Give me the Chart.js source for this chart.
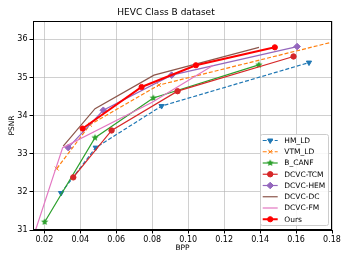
<!DOCTYPE html>
<html><head><meta charset="utf-8">
<script src="https://cdn.jsdelivr.net/npm/chart.js@4"></script>
<style>html,body{margin:0;padding:0;background:#fff;}</style>
</head><body>
<canvas id="c" width="349" height="262"></canvas>
<script>
// ---- data ----
const titleText = 'HEVC Class B dataset';
const xTickValues = [0.02, 0.04, 0.06, 0.08, 0.10, 0.12, 0.14, 0.16, 0.18];
const yTickValues = [31, 32, 33, 34, 35, 36];

const hmLdBpp   = [0.0293, 0.0486, 0.0852, 0.1672];
const hmLdPsnr  = [31.97, 33.16, 34.25, 35.39];
const vtmLdBpp  = [0.0269, 0.0454, 0.0837, 0.2000];
const vtmLdPsnr = [32.61, 33.76, 34.80, 36.16];
const canfBpp   = [0.0202, 0.0482, 0.0806, 0.1393];
const canfPsnr  = [31.21, 33.42, 34.46, 35.33];
const tcmBpp    = [0.0361, 0.0574, 0.0941, 0.1586];
const tcmPsnr   = [32.38, 33.61, 34.64, 35.55];
const hemBpp    = [0.0333, 0.0528, 0.0908, 0.1606];
const hemPsnr   = [33.16, 34.14, 35.06, 35.81];
const dcBpp     = [0.0305, 0.0482, 0.0810, 0.1394];
const dcPsnr    = [33.20, 34.18, 35.06, 35.79];
const fmBpp     = [0.0120, 0.0302, 0.0800, 0.1140];
const fmPsnr    = [30.55, 33.16, 34.35, 35.32];
const oursBpp   = [0.0413, 0.0741, 0.1043, 0.1482];
const oursPsnr  = [33.66, 34.75, 35.32, 35.79];

const FONT = "'DejaVu Sans', sans-serif";

function makeStar(color, r) {
  const c = document.createElement('canvas');
  const s = Math.ceil(r * 2 + 2);
  c.width = c.height = s;
  const g = c.getContext('2d');
  g.fillStyle = color;
  g.beginPath();
  for (let i = 0; i < 10; i++) {
    const a = -Math.PI / 2 + i * Math.PI / 5;
    const rr = i % 2 ? r * 0.45 : r;
    g.lineTo(s / 2 + rr * Math.cos(a), s / 2 + rr * Math.sin(a));
  }
  g.closePath();
  g.fill();
  return c;
}
const starImg = makeStar('#2ca02c', 3.8);

function pts(xs, ys) { return xs.map((x, i) => ({x: x, y: ys[i]})); }

const seriesDefs = [
  {label: 'HM_LD',     xs: hmLdBpp,  ys: hmLdPsnr,  color: '#1f77b4', dash: [4, 2], style: 'triangle', rot: 180, r: 3, w: 1.2},
  {label: 'VTM_LD',    xs: vtmLdBpp, ys: vtmLdPsnr, color: '#ff7f0e', dash: [4, 2], style: 'crossRot', rot: 0, r: 2.8, w: 1.2},
  {label: 'B_CANF',    xs: canfBpp,  ys: canfPsnr,  color: '#2ca02c', dash: [], style: starImg, rot: 0, r: 3.8, w: 1.2},
  {label: 'DCVC-TCM',  xs: tcmBpp,   ys: tcmPsnr,   color: '#d62728', dash: [], style: 'circle', rot: 0, r: 2.7, w: 1.2},
  {label: 'DCVC-HEM',  xs: hemBpp,   ys: hemPsnr,   color: '#9467bd', dash: [], style: 'rectRot', rot: 0, r: 3.3, w: 1.2},
  {label: 'DCVC-DC',   xs: dcBpp,    ys: dcPsnr,    color: '#8c564b', dash: [], style: 'circle', rot: 0, r: 0, w: 1.2},
  {label: 'DCVC-FM',   xs: fmBpp,    ys: fmPsnr,    color: '#e377c2', dash: [], style: 'circle', rot: 0, r: 0, w: 1.2},
  {label: 'Ours',      xs: oursBpp,  ys: oursPsnr,  color: '#ff0000', dash: [], style: 'circle', rot: 0, r: 2.6, w: 2}
];

const datasets = seriesDefs.map((s, i) => ({
  label: s.label,
  data: pts(s.xs, s.ys),
  borderColor: s.color,
  backgroundColor: s.color,
  borderWidth: s.w,
  borderDash: s.dash,
  pointStyle: s.style,
  pointRotation: s.rot,
  pointRadius: s.r,
  pointHoverRadius: s.r,
  pointBackgroundColor: s.color,
  pointBorderColor: s.color,
  pointBorderWidth: 1,
  tension: 0,
  fill: false,
  order: seriesDefs.length - i
}));

const framePlugin = {
  id: 'frame',
  afterDraw(chart) {
    const {ctx, chartArea: a} = chart;
    ctx.save();
    ctx.strokeStyle = '#000';
    ctx.lineWidth = 1;
    ctx.strokeRect(Math.round(a.left) + 0.5, Math.round(a.top) + 0.5,
                   Math.round(a.right) - Math.round(a.left) - 1, Math.round(a.bottom) - Math.round(a.top) - 1);
    // legend
    const bx = 260.5, by = 134.5, bw = 68, bh = 91, rr = 2;
    ctx.beginPath();
    ctx.moveTo(bx + rr, by);
    ctx.arcTo(bx + bw, by, bx + bw, by + bh, rr);
    ctx.arcTo(bx + bw, by + bh, bx, by + bh, rr);
    ctx.arcTo(bx, by + bh, bx, by, rr);
    ctx.arcTo(bx, by, bx + bw, by, rr);
    ctx.closePath();
    ctx.fillStyle = 'rgba(255,255,255,0.85)';
    ctx.fill();
    ctx.strokeStyle = '#cccccc';
    ctx.stroke();
    const y0 = 140.5, step = 11.25;
    seriesDefs.forEach((s, i) => {
      const y = y0 + i * step;
      ctx.save();
      ctx.strokeStyle = s.color;
      ctx.lineWidth = s.w;
      ctx.setLineDash(s.dash);
      ctx.beginPath();
      ctx.moveTo(262.7, y);
      ctx.lineTo(277.7, y);
      ctx.stroke();
      ctx.setLineDash([]);
      if (s.r > 0) {
        ctx.fillStyle = s.color;
        ctx.strokeStyle = s.color;
        ctx.lineWidth = 1;
        Chart.helpers.drawPoint(ctx, {pointStyle: s.style, rotation: s.rot, radius: s.r, borderWidth: 1}, 270.2, y);
      }
      ctx.restore();
      ctx.fillStyle = '#000';
      ctx.font = '7.5px ' + FONT;
      ctx.textBaseline = 'middle';
      ctx.textAlign = 'left';
      ctx.fillText(s.label, 284.3, y + 0.5);
    });
    ctx.restore();
  }
};

const gridColor = 'rgba(176,176,176,0.6)';

new Chart(document.getElementById('c'), {
  type: 'line',
  data: {datasets: datasets},
  options: {
    responsive: false,
    animation: false,
    devicePixelRatio: 1,
    layout: {padding: {left: 0, right: 17, top: 0, bottom: 0}},
    plugins: {
      legend: {display: false},
      tooltip: {enabled: false},
      title: {
        display: true,
        text: titleText,
        color: '#000',
        font: {family: FONT, size: 9, weight: 'normal', lineHeight: 1.2},
        padding: {top: 7, bottom: 3.2}
      }
    },
    scales: {
      x: {
        type: 'linear',
        min: 0.0137,
        max: 0.18,
        afterBuildTicks: s => { s.ticks = xTickValues.map(v => ({value: v})); },
        afterFit: s => { s.height = 32; },
        ticks: {
          callback: v => Number(v).toFixed(2),
          color: '#000',
          font: {family: FONT, size: 8},
          padding: 2,
          maxRotation: 0,
          autoSkip: false
        },
        grid: {color: gridColor, lineWidth: 1, tickColor: '#000', tickLength: 3.5, drawTicks: true},
        border: {display: true, color: '#000', width: 1},
        title: {display: true, text: 'BPP', color: '#000', font: {family: FONT, size: 7.5, lineHeight: 1.2}, padding: {top: 0, bottom: 9.5}}
      },
      y: {
        type: 'linear',
        min: 31,
        max: 36.48,
        afterBuildTicks: s => { s.ticks = yTickValues.map(v => ({value: v})); },
        afterFit: s => { s.width = 33; },
        ticks: {
          callback: v => String(Math.round(v)),
          color: '#000',
          font: {family: FONT, size: 8},
          padding: 2,
          autoSkip: false
        },
        grid: {color: gridColor, lineWidth: 1, tickColor: '#000', tickLength: 3.5, drawTicks: true},
        border: {display: true, color: '#000', width: 1},
        title: {display: true, text: 'PSNR', color: '#000', font: {family: FONT, size: 7.5, lineHeight: 1.2}, padding: {top: 7.5, bottom: 0}}
      }
    }
  },
  plugins: [framePlugin]
});
</script>
</body></html>
